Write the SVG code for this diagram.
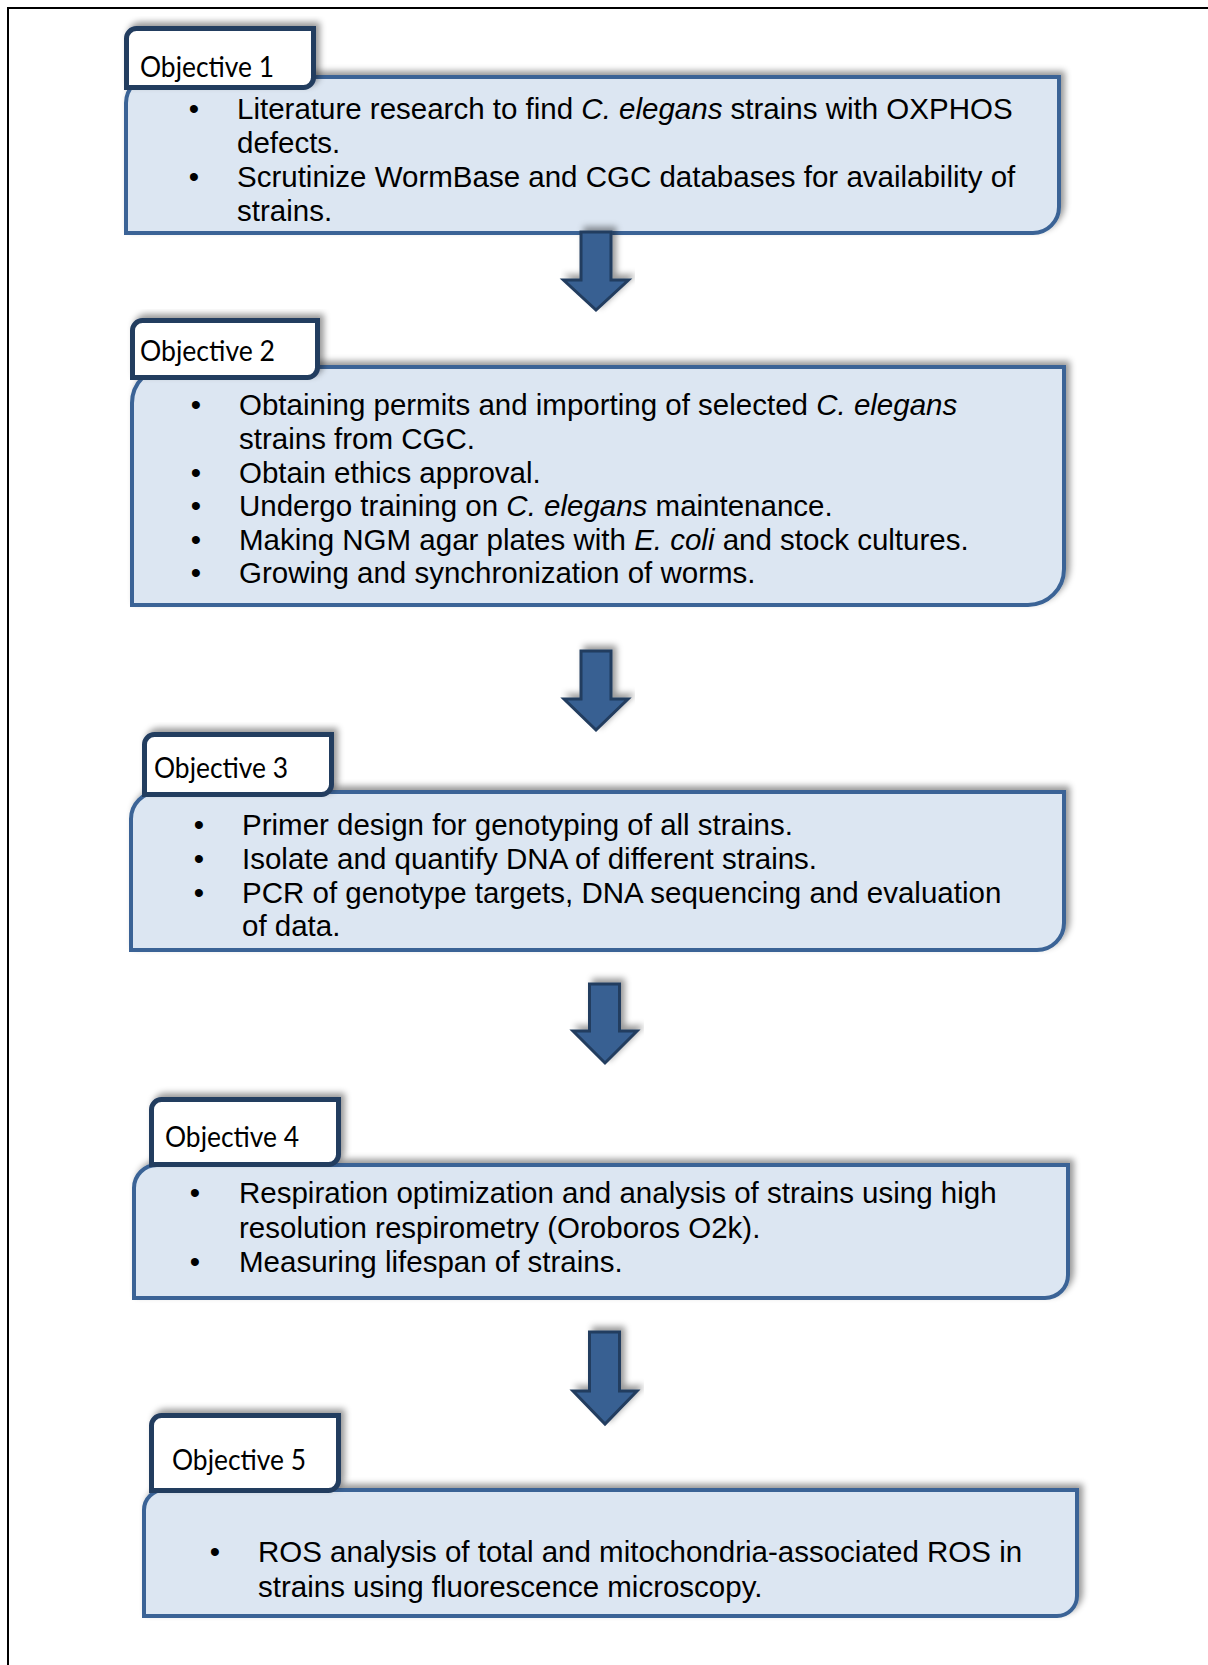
<svg xmlns="http://www.w3.org/2000/svg" width="1208" height="1665" viewBox="0 0 1208 1665">
<defs>
<filter id="sh" x="-10%" y="-20%" width="120%" height="140%">
<feGaussianBlur in="SourceAlpha" stdDeviation="3"/>
<feOffset dx="4" dy="-4" result="b"/>
<feFlood flood-color="#000" flood-opacity="0.4"/>
<feComposite in2="b" operator="in"/>
<feMerge><feMergeNode/><feMergeNode in="SourceGraphic"/></feMerge>
</filter>
<style>
.box{fill:#dce6f2;stroke:#3a6496;stroke-width:4;filter:url(#sh)}
.tab{fill:#fff;stroke:#233c5f;stroke-width:5;filter:url(#sh)}
.arr{fill:#376092;stroke:#233c5f;stroke-width:3;filter:url(#sh)}
.lbl{font-family:Lato,"Open Sans",sans-serif;font-size:28px;fill:#000}
.t{font-family:"Liberation Sans",Arial,sans-serif;font-size:29.5px;fill:#000}
.b{font-family:"Liberation Sans",Arial,sans-serif;font-size:29.5px;fill:#000;text-anchor:middle}
.i{font-style:italic}
</style>
</defs>
<rect width="1208" height="1665" fill="#fff"/>
<path d="M8,1665 V8 H1208" fill="none" stroke="#000" stroke-width="2"/>

<g id="obj1">
<path class="box" d="M126,103 A26,26 0 0 1 152,77 H1059 V207 A26,26 0 0 1 1033,233 H126 Z"/>
<path class="tab" d="M126.5,38.5 A10,10 0 0 1 136.5,28.5 H313.5 V77.5 A10,10 0 0 1 303.5,87.5 H126.5 Z"/>
<text class="lbl" x="140" y="77" textLength="134" lengthAdjust="spacingAndGlyphs">Objective 1</text>
<text class="b" x="194" y="119">•</text>
<text class="t" x="237" y="119">Literature research to find <tspan class="i">C. elegans</tspan> strains with OXPHOS</text>
<text class="t" x="237" y="153">defects.</text>
<text class="b" x="194" y="187">•</text>
<text class="t" x="237" y="187">Scrutinize WormBase and CGC databases for availability of</text>
<text class="t" x="237" y="221">strains.</text>
</g>

<g id="obj2">
<path class="box" d="M132,403 A36,36 0 0 1 168,367 H1064 V569 A36,36 0 0 1 1028,605 H132 Z"/>
<path class="tab" d="M132.5,330.5 A10,10 0 0 1 142.5,320.5 H317.5 V367.5 A10,10 0 0 1 307.5,377.5 H132.5 Z"/>
<text class="lbl" x="140" y="361" textLength="135" lengthAdjust="spacingAndGlyphs">Objective 2</text>
<text class="b" x="196" y="415">•</text>
<text class="t" x="239" y="415">Obtaining permits and importing of selected <tspan class="i">C. elegans</tspan></text>
<text class="t" x="239" y="449">strains from CGC.</text>
<text class="b" x="196" y="483">•</text>
<text class="t" x="239" y="483">Obtain ethics approval.</text>
<text class="b" x="196" y="516">•</text>
<text class="t" x="239" y="516">Undergo training on <tspan class="i">C. elegans</tspan> maintenance.</text>
<text class="b" x="196" y="550">•</text>
<text class="t" x="239" y="550">Making NGM agar plates with <tspan class="i">E. coli</tspan> and stock cultures.</text>
<text class="b" x="196" y="583">•</text>
<text class="t" x="239" y="583">Growing and synchronization of worms.</text>
</g>

<g id="obj3">
<path class="box" d="M131,819 A27,27 0 0 1 158,792 H1064 V923 A27,27 0 0 1 1037,950 H131 Z"/>
<path class="tab" d="M144.5,744.5 A10,10 0 0 1 154.5,734.5 H331.5 V784.5 A10,10 0 0 1 321.5,794.5 H144.5 Z"/>
<text class="lbl" x="154" y="778" textLength="134" lengthAdjust="spacingAndGlyphs">Objective 3</text>
<text class="b" x="199" y="835">•</text>
<text class="t" x="242" y="835">Primer design for genotyping of all strains.</text>
<text class="b" x="199" y="869">•</text>
<text class="t" x="242" y="869">Isolate and quantify DNA of different strains.</text>
<text class="b" x="199" y="903">•</text>
<text class="t" x="242" y="903">PCR of genotype targets, DNA sequencing and evaluation</text>
<text class="t" x="242" y="936">of data.</text>
</g>

<g id="obj4">
<path class="box" d="M134,1188 A23,23 0 0 1 157,1165 H1068 V1275 A23,23 0 0 1 1045,1298 H134 Z"/>
<path class="tab" d="M151.5,1109.5 A10,10 0 0 1 161.5,1099.5 H338.5 V1154.5 A10,10 0 0 1 328.5,1164.5 H151.5 Z"/>
<text class="lbl" x="165" y="1147" textLength="134" lengthAdjust="spacingAndGlyphs">Objective 4</text>
<text class="b" x="195" y="1203">•</text>
<text class="t" x="239" y="1203">Respiration optimization and analysis of strains using high</text>
<text class="t" x="239" y="1238">resolution respirometry (Oroboros O2k).</text>
<text class="b" x="195" y="1272">•</text>
<text class="t" x="239" y="1272">Measuring lifespan of strains.</text>
</g>

<g id="obj5">
<path class="box" d="M144,1510 A20,20 0 0 1 164,1490 H1077 V1596 A20,20 0 0 1 1057,1616 H144 Z"/>
<path class="tab" d="M151.5,1425.5 A10,10 0 0 1 161.5,1415.5 H338.5 V1480.5 A10,10 0 0 1 328.5,1490.5 H151.5 Z"/>
<text class="lbl" x="172" y="1470" textLength="134" lengthAdjust="spacingAndGlyphs">Objective 5</text>
<text class="b" x="215" y="1562">•</text>
<text class="t" x="258" y="1562">ROS analysis of total and mitochondria-associated ROS in</text>
<text class="t" x="258" y="1597">strains using fluorescence microscopy.</text>
</g>

<g id="connectors">
<path class="arr" d="M581,232 H611 V280 H628.5 L596,310 L563.5,280 H581 Z"/>
<path class="arr" d="M581,651 H611 V699 H628 L596,730 L564,699 H581 Z"/>
<path class="arr" d="M589.5,984 H619.5 V1031 H637 L605,1063 L573,1031 H589.5 Z"/>
<path class="arr" d="M589.5,1332 H619.5 V1391 H637 L605,1424 L573,1391 H589.5 Z"/>
</g>
</svg>
